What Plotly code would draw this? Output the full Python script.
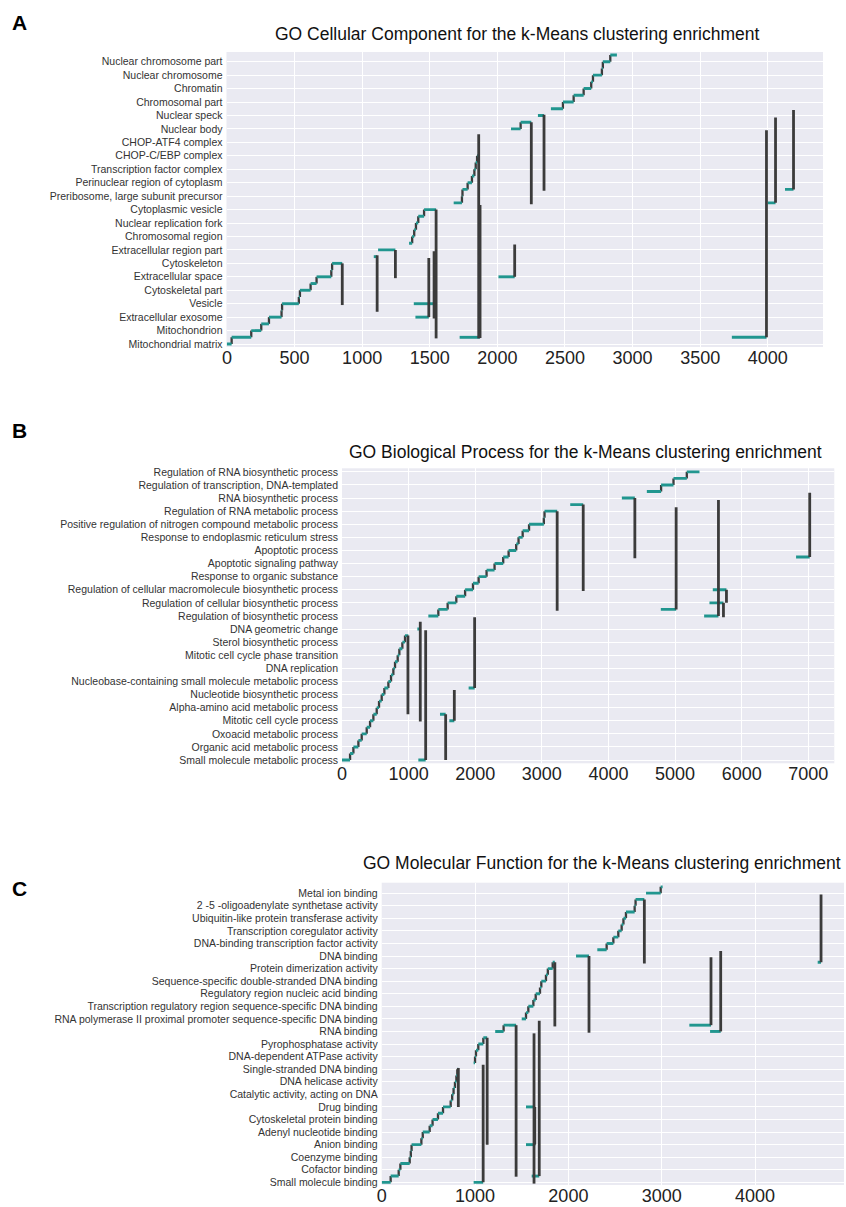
import plotly.graph_objects as go

# ---------------- Panel A: GO Cellular Component ----------------
A_terms = ["Nuclear chromosome part", "Nuclear chromosome", "Chromatin", "Chromosomal part",
           "Nuclear speck", "Nuclear body", "CHOP-ATF4 complex", "CHOP-C/EBP complex",
           "Transcription factor complex", "Perinuclear region of cytoplasm",
           "Preribosome, large subunit precursor", "Cytoplasmic vesicle", "Nuclear replication fork",
           "Chromosomal region", "Extracellular region part", "Cytoskeleton", "Extracellular space",
           "Cytoskeletal part", "Vesicle", "Extracellular exosome", "Mitochondrion", "Mitochondrial matrix"]
A_stair_levels = [
    [0, 0.5, 1, 1.5, 2, 2.5, 3, 3.5, 4, 4.5, 5, 5.5, 6],
    [7.5, 8, 8.5, 9, 9.5, 10],
    [10.5, 11, 11.5, 12, 12.5, 13, 13.5, 14],
    [16, 16.5],
    [17.5, 18, 18.5, 19, 19.5, 20, 20.5, 21, 21.5],
]
A_stair_breaks = [
    [0, 35, 180, 254, 311, 404, 408, 532, 540, 619, 663, 772, 778, 853],
    [1347, 1370, 1385, 1398, 1415, 1458, 1547],
    [1677, 1738, 1742, 1780, 1812, 1830, 1840, 1850, 1862],
    [2101, 2172, 2251],
    [2396, 2485, 2564, 2638, 2694, 2707, 2773, 2780, 2835, 2884],
]
A_seg_y = [6.5, 7, 2, 3, 2.5, 0.5, 5, 17, 0.5, 10.5, 11.5]
A_seg_x0 = [1086, 1118, 1394, 1382, 1525, 1721, 2008, 2300, 3734, 4000, 4127]
A_seg_x1 = [1111, 1246, 1493, 1532, 1535, 1870, 2128, 2345, 3990, 4057, 4190]
A_vert_x = [853, 1111, 1246, 1493, 1532, 1547, 1862, 1872, 2128, 2251, 2345, 3990, 4057, 4190]
A_vert_y0 = [2.9, 2.4, 4.9, 2.0, 1.9, 0.42, 0.42, 0.45, 5.0, 10.4, 11.4, 0.5, 10.5, 11.5]
A_vert_y1 = [6, 6.6, 7, 6.4, 6.9, 10, 15.6, 10.35, 7.4, 16.5, 17.05, 15.9, 16.85, 17.4]
A_xticks = [0, 500, 1000, 1500, 2000, 2500, 3000, 3500, 4000]

# ---------------- Panel B: GO Biological Process ----------------
B_terms = ["Regulation of RNA biosynthetic process", "Regulation of transcription, DNA-templated",
           "RNA biosynthetic process", "Regulation of RNA metabolic process",
           "Positive regulation of nitrogen compound metabolic process",
           "Response to endoplasmic reticulum stress", "Apoptotic process", "Apoptotic signaling pathway",
           "Response to organic substance", "Regulation of cellular macromolecule biosynthetic process",
           "Regulation of cellular biosynthetic process", "Regulation of biosynthetic process",
           "DNA geometric change", "Sterol biosynthetic process", "Mitotic cell cycle phase transition",
           "DNA replication", "Nucleobase-containing small molecule metabolic process",
           "Nucleotide biosynthetic process", "Alpha-amino acid metabolic process",
           "Mitotic cell cycle process", "Oxoacid metabolic process", "Organic acid metabolic process",
           "Small molecule metabolic process"]
B_stair_levels = [
    [0, 0.5, 1, 1.5, 2, 2.5, 3, 3.5, 4, 4.5, 5, 5.5, 6, 6.5, 7, 7.5, 8, 8.5, 9, 9.5],
    [11, 11.5, 12, 12.5, 13, 13.5, 14, 14.5, 15, 15.5, 16, 16.5, 17, 17.5, 18, 18.5, 19],
    [20.5, 21, 21.5, 22],
]
B_stair_breaks = [
    [0, 121, 171, 246, 296, 371, 421, 471, 521, 556, 596, 636, 696, 736, 771, 796, 836, 861, 906, 946, 996],
    [1296, 1446, 1586, 1716, 1848, 1966, 2051, 2170, 2290, 2420, 2501, 2615, 2650, 2712, 2808, 3030, 3040, 3230],
    [4576, 4790, 4976, 5176, 5366],
]
B_seg_y = [10, 0, 3.5, 3, 5.5, 19.5, 20, 11.5, 11, 12, 13, 15.5]
B_seg_x0 = [1131, 1146, 1471, 1611, 1901, 3426, 4201, 4786, 5436, 5516, 5566, 6816]
B_seg_x1 = [1175, 1256, 1556, 1686, 1991, 3621, 4396, 5016, 5651, 5726, 5771, 7021]
B_vert_x = [990, 1175, 1256, 1556, 1686, 1991, 3230, 3621, 4396, 5016, 5651, 5726, 5771, 7021]
B_vert_y0 = [3.5, 2.95, 0, 0, 3, 5.5, 11.4, 12.9, 15.4, 11.5, 11, 10.9, 12, 15.5]
B_vert_y1 = [9.5, 10.55, 9.9, 3.5, 5.35, 10.9, 19, 19.5, 20, 19.3, 19.85, 12, 13, 20.4]
B_xticks = [0, 1000, 2000, 3000, 4000, 5000, 6000, 7000]

# ---------------- Panel C: GO Molecular Function ----------------
C_terms = ["Metal ion binding", "2 -5 -oligoadenylate synthetase activity",
           "Ubiquitin-like protein transferase activity", "Transcription coregulator activity",
           "DNA-binding transcription factor activity", "DNA binding", "Protein dimerization activity",
           "Sequence-specific double-stranded DNA binding", "Regulatory region nucleic acid binding",
           "Transcription regulatory region sequence-specific DNA binding",
           "RNA polymerase II proximal promoter sequence-specific DNA binding", "RNA binding",
           "Pyrophosphatase activity", "DNA-dependent ATPase activity", "Single-stranded DNA binding",
           "DNA helicase activity", "Catalytic activity, acting on DNA", "Drug binding",
           "Cytoskeletal protein binding", "Adenyl nucleotide binding", "Anion binding",
           "Coenzyme binding", "Cofactor binding", "Small molecule binding"]
C_stair_levels = [
    [0, 0.5, 1, 1.5, 2, 2.5, 3, 3.5, 4, 4.5, 5, 5.5, 6, 6.5, 7, 7.5, 8, 8.5, 9],
    [9.5, 10, 10.5, 11, 11.5],
    [12, 12.5],
    [13, 13.5, 14, 14.5, 15, 15.5, 16, 16.5, 17, 17.5],
    [18.5, 19, 19.5, 20, 20.5, 21, 21.5, 22, 22.5],
    [23, 23.5],
]
C_stair_breaks = [
    [0, 96, 182, 200, 300, 312, 320, 425, 440, 514, 545, 603, 657, 739, 755, 770, 785, 800, 810, 821],
    [985, 1000, 1010, 1035, 1089, 1130],
    [1216, 1306, 1440],
    [1500, 1546, 1571, 1625, 1650, 1696, 1710, 1760, 1780, 1832, 1855],
    [2310, 2410, 2482, 2535, 2571, 2590, 2617, 2710, 2720, 2814],
    [2832, 2989, 3010],
]
C_seg_y = [0, 6, 3, 0.5, 18, 12.5, 12, 17.5]
C_seg_x0 = [985, 1546, 1546, 1607, 2082, 3296, 3518, 4671]
C_seg_x1 = [1087, 1635, 1645, 1688, 2221, 3528, 3632, 4707]
C_vert_x = [821, 1087, 1130, 1440, 1632, 1640, 1688, 1855, 2221, 2814, 3528, 3632, 4707]
C_vert_y0 = [6, 0, 3, 0.45, -0.1, 3, 0.5, 12.4, 11.9, 17.4, 12.5, 12, 17.5]
C_vert_y1 = [9.1, 9.35, 11.5, 12.5, 11.85, 6, 12.85, 17.5, 18, 22.5, 17.9, 18.4, 22.9]
C_xticks = [0, 1000, 2000, 3000, 4000]

TEAL = "#21968f"
DARK = "#3b3b3b"
BG = "#EAEAF2"
W, H = 846, 1207
FONT = "Liberation Sans, Arial, sans-serif"

panels = [
    dict(terms=A_terms, sl=A_stair_levels, sb=A_stair_breaks, sy=A_seg_y, sx0=A_seg_x0, sx1=A_seg_x1,
         vx=A_vert_x, vy0=A_vert_y0, vy1=A_vert_y1, xt=A_xticks,
         xpx=(226.5, 823), ypx=(52, 347), xr=(-3, 4408), yr=(-0.22, 21.72), lab_font=10.5,
         title="GO Cellular Component for the k-Means clustering enrichment", tx=517, ty=34, tanchor="center",
         letter="A", ly=22),
    dict(terms=B_terms, sl=B_stair_levels, sb=B_stair_breaks, sy=B_seg_y, sx0=B_seg_x0, sx1=B_seg_x1,
         vx=B_vert_x, vy0=B_vert_y0, vy1=B_vert_y1, xt=B_xticks,
         xpx=(342, 834.3), ypx=(468.3, 763.3), xr=(0, 7390), yr=(-0.25, 22.27), lab_font=10.5,
         title="GO Biological Process for the k-Means clustering enrichment", tx=585, ty=452, tanchor="center",
         letter="B", ly=430),
    dict(terms=C_terms, sl=C_stair_levels, sb=C_stair_breaks, sy=C_seg_y, sx0=C_seg_x0, sx1=C_seg_x1,
         vx=C_vert_x, vy0=C_vert_y0, vy1=C_vert_y1, xt=C_xticks,
         xpx=(381.7, 844), ypx=(882.7, 1185), xr=(0, 4953), yr=(-0.21, 23.83), lab_font=10.5,
         title="GO Molecular Function for the k-Means clustering enrichment", tx=843, ty=863, tanchor="right",
         letter="C", ly=888),
]

fig = go.Figure()
annotations = []
layout_axes = {}

for i, p in enumerate(panels):
    n = i + 1
    xa = "x" if n == 1 else f"x{n}"
    ya = "y" if n == 1 else f"y{n}"
    hx, hy = [], []
    rx, ry = [], []
    for levels, breaks in zip(p["sl"], p["sb"]):
        for k, lv in enumerate(levels):
            hx += [breaks[k], breaks[k + 1], None]
            hy += [lv, lv, None]
            if k > 0:
                rx += [breaks[k], breaks[k], None]
                ry += [levels[k - 1], lv, None]
    for yv, a, b in zip(p["sy"], p["sx0"], p["sx1"]):
        hx += [a, b, None]
        hy += [yv, yv, None]
    vx, vy = [], []
    for xv, a, b in zip(p["vx"], p["vy0"], p["vy1"]):
        vx += [xv, xv, None]
        vy += [a, b, None]
    # risers under the teal steps, then teal steps, then long dark verticals
    fig.add_trace(go.Scatter(x=rx, y=ry, mode="lines", line=dict(color=DARK, width=2.3),
                             xaxis=xa, yaxis=ya, hoverinfo="skip", showlegend=False))
    fig.add_trace(go.Scatter(x=hx, y=hy, mode="lines", line=dict(color=TEAL, width=2.9),
                             xaxis=xa, yaxis=ya, hoverinfo="skip", showlegend=False))
    fig.add_trace(go.Scatter(x=vx, y=vy, mode="lines", line=dict(color=DARK, width=2.8),
                             xaxis=xa, yaxis=ya, hoverinfo="skip", showlegend=False))

    labels_bottom_up = list(reversed(p["terms"]))
    key = "" if n == 1 else str(n)
    layout_axes["xaxis" + key] = dict(
        domain=[p["xpx"][0] / W, p["xpx"][1] / W], anchor=ya, range=list(p["xr"]),
        tickvals=p["xt"], ticktext=[str(t) for t in p["xt"]], automargin=False,
        showgrid=True, gridcolor="white", gridwidth=1.4, zeroline=False, showline=False,
        ticks="", ticklabelstandoff=-2,
        tickfont=dict(family=FONT, size=18, color="#222222"),
    )
    layout_axes["yaxis" + key] = dict(
        domain=[1 - p["ypx"][1] / H, 1 - p["ypx"][0] / H], anchor=xa, range=list(p["yr"]),
        tickvals=list(range(len(labels_bottom_up))), ticktext=labels_bottom_up, automargin=False,
        showgrid=True, gridcolor="white", gridwidth=1.4, zeroline=False, showline=False,
        ticks="", ticklabelstandoff=3,
        tickfont=dict(family=FONT, size=p["lab_font"], color="#333333"),
    )
    annotations.append(dict(text=p["title"], x=p["tx"] / W, y=1 - p["ty"] / H, xref="paper", yref="paper",
                            xanchor=p["tanchor"], yanchor="middle", showarrow=False,
                            font=dict(family=FONT, size=17.5, color="#111111")))
    annotations.append(dict(text="<b>" + p["letter"] + "</b>", x=10 / W, y=1 - p["ly"] / H,
                            xref="paper", yref="paper", xanchor="left", yanchor="middle", showarrow=False,
                            font=dict(family=FONT, size=21, color="#000000")))

fig.update_layout(
    width=W, height=H, margin=dict(l=0, r=0, t=0, b=0, autoexpand=False),
    paper_bgcolor="white", plot_bgcolor=BG,
    annotations=annotations, **layout_axes,
)
fig.write_html("out.html", config={"displayModeBar": False},
               post_script="document.body.style.margin='0';")
